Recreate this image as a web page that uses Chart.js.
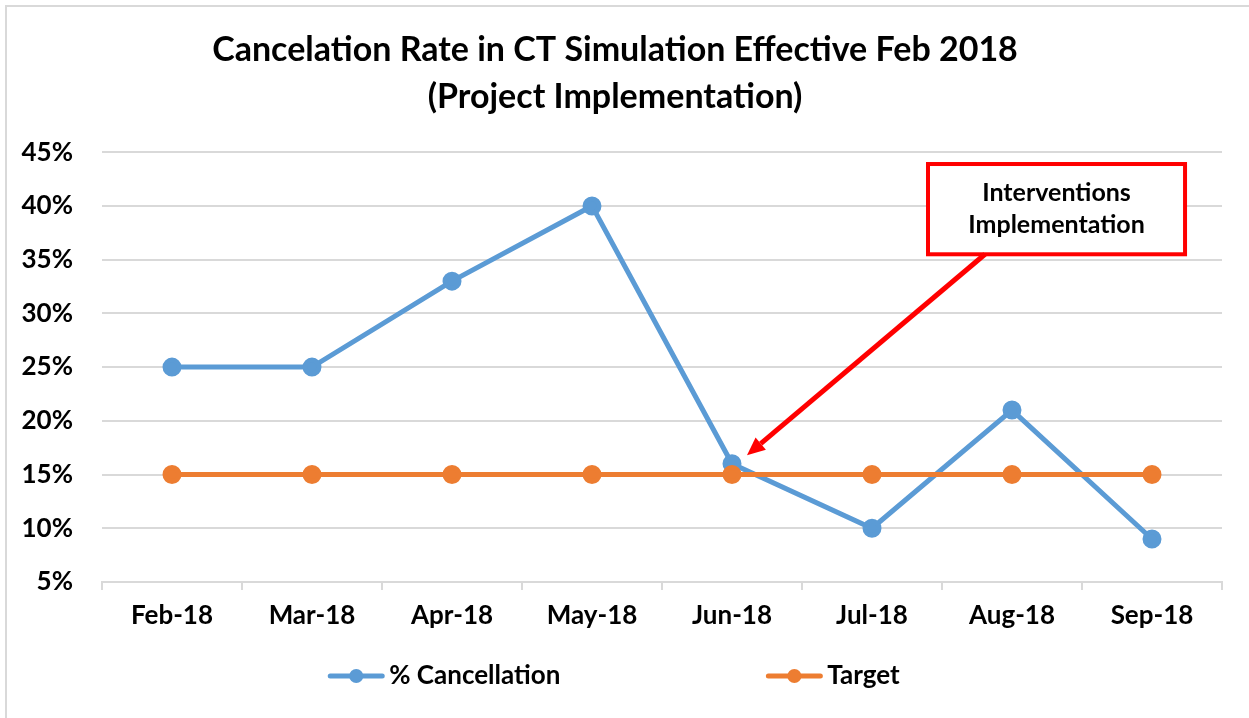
<!DOCTYPE html>
<html>
<head>
<meta charset="utf-8">
<script src="https://cdn.jsdelivr.net/npm/chart.js@4"></script>
<style>
  body { margin: 0; background: #fff; }
  canvas { display: block; background: #fff; }
</style>
</head>
<body>
<canvas id="rate-chart" width="1249" height="718"></canvas>
<script>
"use strict";

// Data
const months = ["Feb-18", "Mar-18", "Apr-18", "May-18", "Jun-18", "Jul-18", "Aug-18", "Sep-18"];
const cancellation = [25, 25, 33, 40, 16, 10, 21, 9];
const target = [15, 15, 15, 15, 15, 15, 15, 15];
const yTicks = [5, 10, 15, 20, 25, 30, 35, 40, 45];

const FONT = "Lato, 'Open Sans', sans-serif";
const BLUE = "#5B9BD5";
const ORANGE = "#ED7D31";
const GRID = "#d9d9d9";

// outer frame of the chart object (only top and left edges show)
const frame = {
    id: "frame",
    beforeDraw(chart) {
        const ctx = chart.ctx;
        ctx.save();
        ctx.strokeStyle = GRID;
        ctx.lineWidth = 2;
        ctx.beginPath();
        ctx.moveTo(6, chart.height);
        ctx.lineTo(6, 6);
        ctx.lineTo(chart.width, 6);
        ctx.stroke();
        ctx.restore();
    }
};

// legend drawn by hand so the gap between items can be wide
const lineLegend = {
    id: "lineLegend",
    afterDraw(chart, args, opts) {
        const ctx = chart.ctx;
        ctx.save();
        ctx.font = "bold 26px " + FONT;
        ctx.textBaseline = "middle";
        const items = chart.data.datasets.map(ds => ({
            ds: ds,
            w: opts.lineLen + opts.textGap + ctx.measureText(ds.label).width
        }));
        const total = items.reduce((s, it) => s + it.w, 0) + opts.gap * (items.length - 1);
        let x = opts.centerX - total / 2;
        const y = opts.y;
        items.forEach(it => {
            ctx.strokeStyle = it.ds.borderColor;
            ctx.lineWidth = 5;
            ctx.lineCap = "round";
            ctx.beginPath();
            ctx.moveTo(x + 2, y);
            ctx.lineTo(x + opts.lineLen - 2, y);
            ctx.stroke();
            ctx.fillStyle = it.ds.borderColor;
            ctx.beginPath();
            ctx.arc(x + opts.lineLen / 2, y, 7, 0, Math.PI * 2);
            ctx.fill();
            ctx.fillStyle = "#000";
            ctx.fillText(it.ds.label, x + opts.lineLen + opts.textGap, y);
            x += it.w + opts.gap;
        });
        ctx.restore();
    }
};

// callout box with arrow, placed in data coordinates
const callout = {
    id: "callout",
    afterDatasetsDraw(chart, args, opts) {
        const ctx = chart.ctx;
        const xs = chart.scales.x;
        const ys = chart.scales.y;
        const left = xs.getPixelForValue(opts.box.x0);
        const right = xs.getPixelForValue(opts.box.x1);
        const top = ys.getPixelForValue(opts.box.y0);
        const bottom = ys.getPixelForValue(opts.box.y1);

        ctx.save();
        ctx.fillStyle = "#fff";
        ctx.fillRect(left, top, right - left, bottom - top);
        ctx.strokeStyle = "#FF0000";
        ctx.lineWidth = 4;
        ctx.strokeRect(left, top, right - left, bottom - top);

        ctx.fillStyle = "#000";
        ctx.font = "bold 25px " + FONT;
        ctx.textAlign = "center";
        ctx.textBaseline = "middle";
        const cx = (left + right) / 2;
        const cy = (top + bottom) / 2;
        ctx.fillText(opts.lines[0], cx, cy - 16);
        ctx.fillText(opts.lines[1], cx, cy + 16);

        // arrow
        const sx = xs.getPixelForValue(opts.from.x);
        const sy = ys.getPixelForValue(opts.from.y);
        const tx = xs.getPixelForValue(opts.to.x);
        const ty = ys.getPixelForValue(opts.to.y);
        const ang = Math.atan2(ty - sy, tx - sx);
        const headLen = 18;
        const headW = 8;
        const bx = tx - headLen * Math.cos(ang);
        const by = ty - headLen * Math.sin(ang);
        ctx.strokeStyle = "#FF0000";
        ctx.lineWidth = 5;
        ctx.beginPath();
        ctx.moveTo(sx, sy);
        ctx.lineTo(bx, by);
        ctx.stroke();
        ctx.fillStyle = "#FF0000";
        ctx.beginPath();
        ctx.moveTo(tx, ty);
        ctx.lineTo(bx + headW * Math.sin(ang), by - headW * Math.cos(ang));
        ctx.lineTo(bx - headW * Math.sin(ang), by + headW * Math.cos(ang));
        ctx.closePath();
        ctx.fill();
        ctx.restore();
    }
};

const config = {
    type: "line",
    data: {
        labels: months,
        datasets: [
            {
                label: "% Cancellation",
                data: cancellation,
                borderColor: BLUE,
                backgroundColor: BLUE,
                borderWidth: 5,
                pointRadius: 7,
                pointHoverRadius: 7,
                tension: 0,
                order: 1
            },
            {
                label: "Target",
                data: target,
                borderColor: ORANGE,
                backgroundColor: ORANGE,
                borderWidth: 5,
                pointRadius: 7,
                pointHoverRadius: 7,
                tension: 0,
                order: 0
            }
        ]
    },
    options: {
        responsive: false,
        animation: false,
        layout: {
            padding: { left: 8, right: 27, top: 0, bottom: 76 }
        },
        scales: {
            x: {
                offset: true,
                grid: {
                    offset: true,
                    drawOnChartArea: false,
                    color: GRID,
                    lineWidth: 2,
                    tickLength: 8
                },
                border: { color: GRID, width: 2 },
                ticks: {
                    color: "#000",
                    padding: 10,
                    font: { family: FONT, size: 26, weight: "bold" }
                },
                afterFit(scale) { scale.height = 60; }
            },
            y: {
                min: yTicks[0],
                max: yTicks[yTicks.length - 1],
                afterBuildTicks(scale) {
                    scale.ticks = yTicks.map(v => ({ value: v }));
                },
                grid: {
                    color: GRID,
                    lineWidth: 2,
                    drawTicks: false
                },
                border: { display: false },
                ticks: {
                    color: "#000",
                    padding: 29,
                    font: { family: FONT, size: 26, weight: "bold" },
                    callback: v => v + "%"
                },
                afterFit(scale) { scale.width = 94; }
            }
        },
        plugins: {
            legend: { display: false },
            tooltip: { enabled: false },
            title: {
                display: true,
                text: ["Cancelation Rate in CT Simulation Effective Feb 2018", "(Project Implementation)"],
                color: "#000",
                font: { family: FONT, size: 34, weight: "bold", lineHeight: 1.4 },
                padding: { top: 26, bottom: 31 }
            },
            lineLegend: { y: 676, centerX: 614, lineLen: 56, textGap: 5, gap: 206 },
            callout: {
                box: { x0: 5.4, x1: 7.236, y0: 43.9, y1: 35.5 },
                lines: ["Interventions", "Implementation"],
                from: { x: 5.807, y: 35.5 },
                to: { x: 4.107, y: 16.8 }
            }
        }
    },
    plugins: [frame, callout, lineLegend]
};

new Chart(document.getElementById("rate-chart"), config);
</script>
</body>
</html>
